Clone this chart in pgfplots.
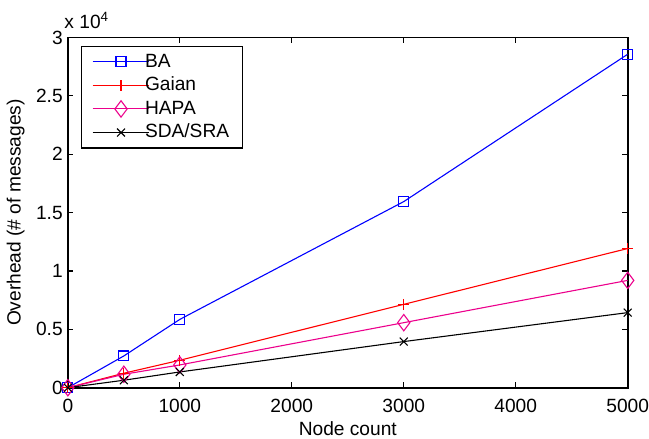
\documentclass[border=0pt]{standalone}
\usepackage{fontspec}
\setmainfont{Liberation Sans}
\usepackage{pgfplots}
\pgfplotsset{compat=1.18}

\begin{document}
\begin{tikzpicture}[font=\fontsize{9.6bp}{11.5bp}\selectfont]
% canvas, 1px = 0.5bp
\path (-34bp,-25.25bp) rectangle (290.5bp,194.25bp);
\begin{axis}[
    at={(0,0)}, anchor=south west,
    scale only axis,
    width=280.5bp, height=175.5bp,
    xmin=0, xmax=5000, ymin=0, ymax=30000,
    xtick={0,1000,2000,3000,4000,5000},
    ytick={0,5000,10000,15000,20000,25000,30000},
    scaled x ticks=false,
    scaled y ticks=base 10:-4,
    ytick scale label code/.code={x 10\textsuperscript{4}},
    every y tick scale label/.style={at={(rel axis cs:0,1)}, anchor=base west,
        inner sep=0pt, xshift=0.5bp, yshift=4.5bp},
    /pgf/number format/assume math mode=true,
    /pgf/number format/1000 sep={},
    tick align=inside,
    major tick length=2.8bp,
    axis line style={line width=0.9bp},
    every tick/.style={line width=0.6bp, black},
    xticklabel style={anchor=base, inner sep=0pt, yshift=-12.4bp},
    yticklabel style={anchor=east, inner sep=0pt, xshift=-2.4bp},
    every axis x label/.style={at={(axis description cs:0.5,-0.1353)}, anchor=base, inner sep=0pt},
    every axis y label/.style={at={(axis description cs:-0.0766,0.5)}, rotate=90, anchor=south, inner sep=0pt},
    xlabel={Node count},
    ylabel={Overhead (\# of messages)},
    legend cell align=left,
    legend style={at={(axis description cs:0.0226,0.976)}, anchor=north west,
        draw=black, line width=0.55bp,
        inner xsep=5.5bp, inner ysep=2bp,
        nodes={inner sep=1bp, text height=7.5bp, text depth=2bp},
        /tikz/every odd column/.style={column sep=-3.5bp},
        row sep=0.3bp},
    legend image code/.code={%
        \draw (0bp,0bp) -- (28.5bp,0bp);
        \draw plot[only marks] coordinates {(14.25bp,0bp)};},
    every axis plot/.append style={line width=0.55bp},
]
\addplot[color=blue, mark=square, mark size=2.5bp, mark options={draw=blue}] coordinates {(0,0) (500,2720) (1000,5850) (3000,15940) (5000,28560)};
\addplot[color=red, mark=+, mark size=2.7bp, mark options={draw=red}] coordinates {(0,0) (500,1240) (1000,2350) (3000,7140) (5000,11920)};
\addplot[color=magenta, mark=diamond, mark size=4.1bp, mark options={draw=magenta}] coordinates {(0,0) (500,1150) (1000,1950) (3000,5570) (5000,9190)};
\addplot[color=black, mark=x, mark size=2.8bp] coordinates {(0,0) (500,640) (1000,1350) (3000,3950) (5000,6430)};
\legend{BA, Gaian, HAPA, SDA/SRA}
\end{axis}
\end{tikzpicture}
\end{document}
